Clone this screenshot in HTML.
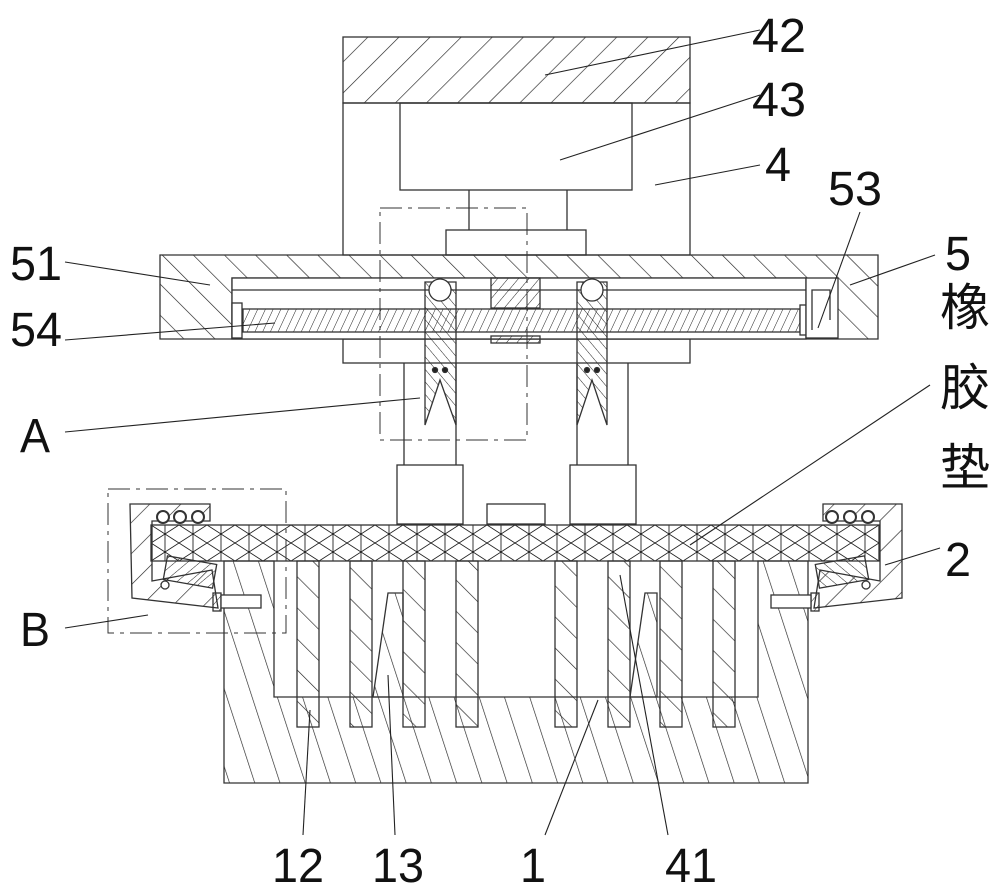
<!DOCTYPE html>
<html><head><meta charset="utf-8"><style>
html,body{margin:0;padding:0;background:#fff;width:1000px;height:893px;overflow:hidden}
svg text{font-family:"Liberation Sans","Noto Sans CJK SC",sans-serif;fill:#111}
</style></head><body>
<svg width="1000" height="893" viewBox="0 0 1000 893" xmlns="http://www.w3.org/2000/svg">
<defs>
<pattern id="hf" width="22" height="22" patternUnits="userSpaceOnUse" patternTransform="rotate(45)"><line x1="0" y1="0" x2="0" y2="22" stroke="#222" stroke-width="1.3"/></pattern>
<pattern id="hb" width="22" height="22" patternUnits="userSpaceOnUse" patternTransform="rotate(-45)"><line x1="0" y1="0" x2="0" y2="22" stroke="#222" stroke-width="1.3"/></pattern>
<pattern id="hs" width="8" height="8" patternUnits="userSpaceOnUse" patternTransform="rotate(40)"><line x1="0" y1="0" x2="0" y2="8" stroke="#222" stroke-width="1"/></pattern>
<pattern id="hs2" width="8" height="8" patternUnits="userSpaceOnUse" patternTransform="rotate(-40)"><line x1="0" y1="0" x2="0" y2="8" stroke="#222" stroke-width="1"/></pattern>
<pattern id="hbase" width="24" height="24" patternUnits="userSpaceOnUse" patternTransform="rotate(-18)"><line x1="0" y1="0" x2="0" y2="24" stroke="#222" stroke-width="1.3"/></pattern>
<pattern id="hscrew" width="7" height="7" patternUnits="userSpaceOnUse" patternTransform="rotate(25)"><line x1="0" y1="0" x2="0" y2="7" stroke="#222" stroke-width="1"/></pattern>
<pattern id="xh" width="28" height="18" patternUnits="userSpaceOnUse" x="151" y="525"><path d="M0 0L28 18M28 0L0 18M14 0V18" stroke="#222" stroke-width="0.9" fill="none"/></pattern>
</defs>
<g fill="none" stroke="#333" stroke-width="1.3">
<rect x="343" y="37" width="347" height="66" fill="url(#hf)"/>
<rect x="343" y="103" width="347" height="152"/>
<rect x="400" y="103" width="232" height="87"/>
<path d="M469 190V230M567 190V230"/>
<rect x="446" y="230" width="140" height="25"/>
<rect x="343" y="339" width="347" height="24"/>
<path d="M160 255H878V339H160Z M232 278V339H806V278Z" fill="url(#hb)" fill-rule="evenodd"/>
<rect x="232" y="278" width="574" height="61" fill="#fff"/>
<line x1="232" y1="290" x2="806" y2="290"/>
<rect x="232" y="303" width="10" height="35" fill="#fff"/>
<rect x="243" y="309" width="557" height="23" fill="url(#hscrew)"/>
<rect x="800" y="305" width="6" height="30" fill="#fff"/>
<rect x="806" y="278" width="32" height="60" fill="#fff"/>
<path d="M812 330V290H830V320"/>
<rect x="491" y="278" width="49" height="30" fill="url(#hs)"/>
<rect x="491" y="336" width="49" height="7" fill="url(#hs)"/>
<path d="M404 363V465M456 363V465M577 363V465M628 363V465"/>
<rect x="397" y="465" width="66" height="59"/>
<rect x="570" y="465" width="66" height="59"/>
<path d="M425 282H456V425L440 380L425 425Z" fill="url(#hs2)"/>
<path d="M577 282H607V425L592 380L577 425Z" fill="url(#hs2)"/>
<circle cx="440" cy="290" r="11" fill="#fff"/>
<circle cx="592" cy="290" r="11" fill="#fff"/>
<circle cx="435" cy="370" r="2.5" fill="#222"/><circle cx="445" cy="370" r="2.5" fill="#222"/>
<circle cx="587" cy="370" r="2.5" fill="#222"/><circle cx="597" cy="370" r="2.5" fill="#222"/>
<rect x="380" y="208" width="147" height="232" stroke-dasharray="22,6,4,6" stroke-width="1"/>
<path d="M224 561H274V697H758V561H808V783H224Z" fill="url(#hbase)"/>
<g fill="url(#hb)">
<rect x="297" y="561" width="22" height="166"/><rect x="350" y="561" width="22" height="166"/>
<rect x="403" y="561" width="22" height="166"/><rect x="456" y="561" width="22" height="166"/>
<rect x="555" y="561" width="22" height="166"/><rect x="608" y="561" width="22" height="166"/>
<rect x="660" y="561" width="22" height="166"/><rect x="713" y="561" width="22" height="166"/>
</g>
<path d="M373 697L388 593H403V697Z" fill="url(#hbase)"/>
<path d="M630 697L645 593H657V697Z" fill="url(#hbase)"/>
<rect x="487" y="504" width="58" height="20"/>
<rect x="151" y="525" width="728" height="36" fill="url(#xh)"/>
<path d="M130 504H210V521H152V581L212 570L218 608L132 598Z" fill="url(#hf)"/>
<rect x="165" y="560" width="50" height="24" fill="url(#hs)" transform="rotate(10 190 572)"/>
<circle cx="165" cy="585" r="4" fill="#fff"/>
<rect x="213" y="593" width="8" height="18" fill="url(#hs)"/>
<rect x="221" y="595" width="40" height="13" fill="#fff"/>
<circle cx="163" cy="517" r="6" fill="#fff" stroke-width="2"/><circle cx="180" cy="517" r="6" fill="#fff" stroke-width="2"/><circle cx="198" cy="517" r="6" fill="#fff" stroke-width="2"/>
<path d="M902 504H823V521H880V581L820 570L814 608L902 598Z" fill="url(#hf)"/>
<rect x="817" y="560" width="50" height="24" fill="url(#hs2)" transform="rotate(-10 842 572)"/>
<circle cx="866" cy="585" r="4" fill="#fff"/>
<rect x="811" y="593" width="8" height="18" fill="url(#hs)"/>
<rect x="771" y="595" width="40" height="13" fill="#fff"/>
<circle cx="832" cy="517" r="6" fill="#fff" stroke-width="2"/><circle cx="850" cy="517" r="6" fill="#fff" stroke-width="2"/><circle cx="868" cy="517" r="6" fill="#fff" stroke-width="2"/>
<rect x="108" y="489" width="178" height="144" stroke-dasharray="22,6,4,6" stroke-width="1"/>
</g>
<g stroke="#222" stroke-width="1.1">
<line x1="545" y1="75" x2="760" y2="30"/>
<line x1="560" y1="160" x2="760" y2="95"/>
<line x1="655" y1="185" x2="760" y2="165"/>
<line x1="818" y1="328" x2="860" y2="212"/>
<line x1="850" y1="285" x2="935" y2="255"/>
<line x1="210" y1="285" x2="65" y2="262"/>
<line x1="275" y1="323" x2="65" y2="340"/>
<line x1="420" y1="398" x2="65" y2="432"/>
<line x1="148" y1="615" x2="65" y2="628"/>
<line x1="885" y1="565" x2="940" y2="548"/>
<line x1="690" y1="545" x2="930" y2="385"/>
<line x1="310" y1="710" x2="303" y2="835"/>
<line x1="388" y1="675" x2="395" y2="835"/>
<line x1="620" y1="575" x2="668" y2="835"/>
<line x1="598" y1="700" x2="545" y2="835"/>
</g>
<g font-size="48">
<text x="752" y="52" textLength="54" lengthAdjust="spacingAndGlyphs">42</text>
<text x="752" y="116" textLength="54" lengthAdjust="spacingAndGlyphs">43</text>
<text x="765" y="181" textLength="26" lengthAdjust="spacingAndGlyphs">4</text>
<text x="828" y="205" textLength="54" lengthAdjust="spacingAndGlyphs">53</text>
<text x="945" y="270" textLength="26" lengthAdjust="spacingAndGlyphs">5</text>
<text x="10" y="280" textLength="52" lengthAdjust="spacingAndGlyphs">51</text>
<text x="10" y="346" textLength="52" lengthAdjust="spacingAndGlyphs">54</text>
<text x="20" y="452" textLength="30" lengthAdjust="spacingAndGlyphs">A</text>
<text x="20" y="646" textLength="30" lengthAdjust="spacingAndGlyphs">B</text>
<text x="945" y="576" textLength="26" lengthAdjust="spacingAndGlyphs">2</text>
<text x="272" y="882" textLength="52" lengthAdjust="spacingAndGlyphs">12</text>
<text x="372" y="882" textLength="52" lengthAdjust="spacingAndGlyphs">13</text>
<text x="520" y="882" textLength="26" lengthAdjust="spacingAndGlyphs">1</text>
<text x="665" y="882" textLength="52" lengthAdjust="spacingAndGlyphs">41</text>
<text x="940" y="325" font-size="50">橡</text>
<text x="940" y="405" font-size="50">胶</text>
<text x="940" y="485" font-size="50">垫</text>
</g>
</svg>
</body></html>
